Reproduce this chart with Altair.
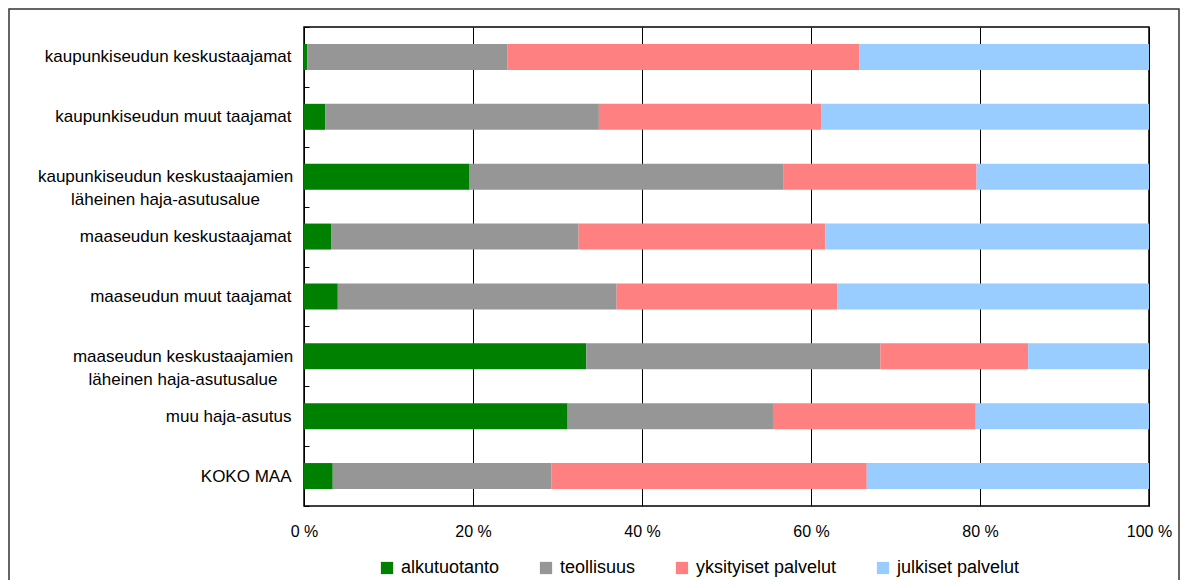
import altair as alt
import pandas as pd

categories = [
    "kaupunkiseudun keskustaajamat",
    "kaupunkiseudun muut taajamat",
    "kaupunkiseudun keskustaajamien läheinen haja-asutusalue",
    "maaseudun keskustaajamat",
    "maaseudun muut taajamat",
    "maaseudun keskustaajamien läheinen haja-asutusalue",
    "muu haja-asutus",
    "KOKO MAA",
]
sectors = ["alkutuotanto", "teollisuus", "yksityiset palvelut", "julkiset palvelut"]
alkutuotanto = [0.4, 2.5, 19.6, 3.2, 4.0, 33.4, 31.2, 3.4]
teollisuus = [23.7, 32.4, 37.1, 29.3, 33.0, 34.8, 24.3, 25.9]
yksityiset_palvelut = [41.6, 26.3, 22.9, 29.2, 26.1, 17.5, 24.0, 37.3]
julkiset_palvelut = [34.3, 38.8, 20.4, 38.3, 36.9, 14.3, 20.5, 33.4]
colors = ["#008000", "#969696", "#FF8080", "#99CCFF"]
x_ticks = [0, 0.2, 0.4, 0.6, 0.8, 1.0]

series = [alkutuotanto, teollisuus, yksityiset_palvelut, julkiset_palvelut]
rows = []
for si, (name, vals) in enumerate(zip(sectors, series)):
    for cat, v in zip(categories, vals):
        rows.append({"alue": cat, "sektori": name, "osuus": v, "jarjestys": si})
df = pd.DataFrame(rows)

FONT = "Liberation Sans"

VAL = "(datum.value + '')"
is_multi = f"indexof({VAL}, 'läheinen') >= 0"

bars = alt.Chart(df).mark_bar(size=26).encode(
    x=alt.X(
        "osuus:Q",
        stack="normalize",
        scale=alt.Scale(domain=[0, 1], nice=False),
        axis=alt.Axis(
            values=x_ticks,
            labelExpr="format(datum.value * 100, 'd') + ' %'",
            labelFlush=False,
            grid=True,
            gridColor="#000000",
            gridWidth=1,
            ticks=False,
            domain=False,
            labelPadding=17,
            labelFontSize=16,
            labelFont=FONT,
            labelColor="#000000",
            title=None,
        ),
    ),
    y=alt.Y(
        "alue:N",
        sort=categories,
        scale=alt.Scale(domain=categories, paddingInner=0, paddingOuter=0),
        axis=alt.Axis(
            title=None,
            domain=False,
            grid=False,
            tickBand="extent",
            tickSize={"expr": "-5"},
            tickColor="#000000",
            tickWidth=1,
            labelFont=FONT,
            labelFontSize=17,
            labelColor="#000000",
            labelLimit=400,
            labelLineHeight=23,
            labelExpr=f"indexof({VAL}, ' läheinen') >= 0 ? split(replace({VAL}, ' läheinen', '|läheinen'), '|') : datum.label",
            labelAlign={"condition": {"test": is_multi, "value": "center"}, "value": "right"},
            labelPadding={
                "condition": [
                    {"test": f"indexof({VAL}, 'kaupunkiseudun keskustaajamien') >= 0", "value": 144},
                    {"test": f"indexof({VAL}, 'maaseudun keskustaajamien') >= 0", "value": 126.5},
                ],
                "value": 18,
            },
        ),
    ),
    color=alt.Color(
        "sektori:N",
        scale=alt.Scale(domain=sectors, range=colors),
        legend=alt.Legend(
            title=None,
            orient="none",
            legendX=74,
            legendY=532,
            direction="horizontal",
            symbolType="square",
            symbolSize=150,
            symbolStrokeWidth=0,
            symbolOpacity=1,
            labelFont=FONT,
            labelFontSize=18,
            labelColor="#000000",
            labelOffset=5,
            columnPadding=37,
        ),
    ),
    order=alt.Order("jarjestys:Q"),
)

frame = alt.Chart(pd.DataFrame({"k": [0]})).mark_rect(
    fillOpacity=0, stroke="#333333", strokeWidth=1.5
).encode(
    x=alt.value(-295),
    x2=alt.value(875),
    y=alt.value(-18),
    y2=alt.value(620),
)

chart = alt.layer(frame, bars).properties(
    width=845,
    height=479,
    padding={"left": 296, "top": 19, "right": 31, "bottom": 74},
    autosize=alt.AutoSizeParams(type="none"),
    background="white",
).configure_view(stroke="#000000", strokeWidth=1.5)

chart.save("out.html", embed_options={"renderer": "svg", "actions": False})
